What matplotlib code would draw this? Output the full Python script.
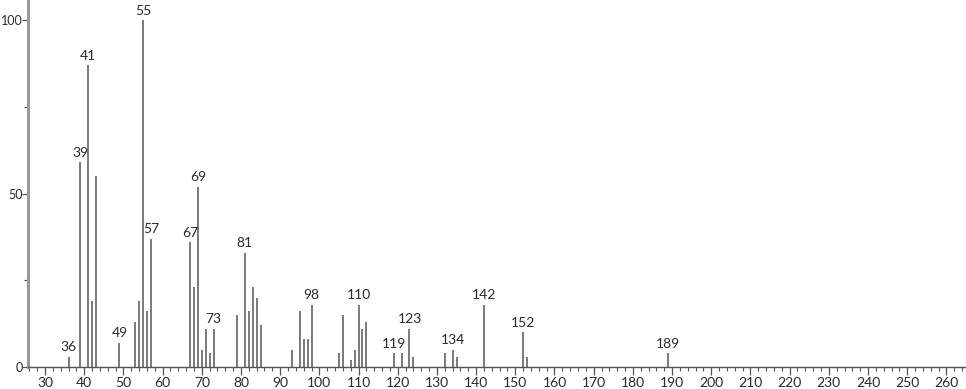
import matplotlib
matplotlib.use("Agg")
from matplotlib import pyplot as plt
from matplotlib.ticker import MultipleLocator

# m/z values and relative intensities
mz = [36, 39, 41, 42, 43, 49, 53, 54, 55, 56, 57, 67, 68, 69, 70, 71, 72, 73,
      79, 81, 82, 83, 84, 85, 93, 95, 96, 97, 98, 105, 106, 108, 109, 110, 111,
      112, 119, 121, 123, 124, 132, 134, 135, 142, 152, 153, 189]
intensity = [3, 59, 87, 19, 55, 7, 13, 19, 100, 16, 37, 36, 23, 52, 5, 11, 4, 11,
             15, 33, 16, 23, 20, 12, 5, 16, 8, 8, 18, 4, 15, 2, 5, 18, 11,
             13, 4, 4, 11, 3, 4, 5, 3, 18, 10, 3, 4]
labeled = [36, 39, 41, 49, 55, 57, 67, 69, 73, 81, 98, 110, 119, 123, 134, 142, 152, 189]

plt.rcParams["font.family"] = ["Lato", "DejaVu Sans"]

fig = plt.figure(figsize=(9.66, 3.89), dpi=100)
ax = fig.add_axes([0.029, 0.0566, 0.971, 0.9434])

ax.vlines(mz, 0, intensity, color="#7a7a7a", linewidth=1.4)
for m, h in zip(mz, intensity):
    if m in labeled:
        ax.annotate(str(m), (m, h), xytext=(0, 2.5), textcoords="offset points",
                    ha="center", va="bottom", fontsize=10, color="#2a2a2a")

ax.set_xlim(25.66, 265)
ax.set_ylim(0, 105.8)

for side in ["top", "right"]:
    ax.spines[side].set_visible(False)
ax.spines["left"].set_color("#9a9a9a")
ax.spines["left"].set_linewidth(2.2)
ax.spines["bottom"].set_color("#555555")
ax.spines["bottom"].set_linewidth(1.0)

ax.xaxis.set_major_locator(MultipleLocator(10))
ax.xaxis.set_minor_locator(MultipleLocator(2))
ax.yaxis.set_major_locator(MultipleLocator(50))
ax.yaxis.set_minor_locator(MultipleLocator(25))
ax.tick_params(axis="x", which="major", length=6, width=0.9, color="#555555",
               labelsize=10, labelcolor="#2a2a2a", pad=1)
ax.tick_params(axis="y", which="major", length=4, width=0.9, color="#555555",
               labelsize=9, labelcolor="#2a2a2a", pad=0)
ax.tick_params(axis="both", which="minor", length=3, width=0.8, color="#555555")

fig.savefig("out.png", dpi=100)
